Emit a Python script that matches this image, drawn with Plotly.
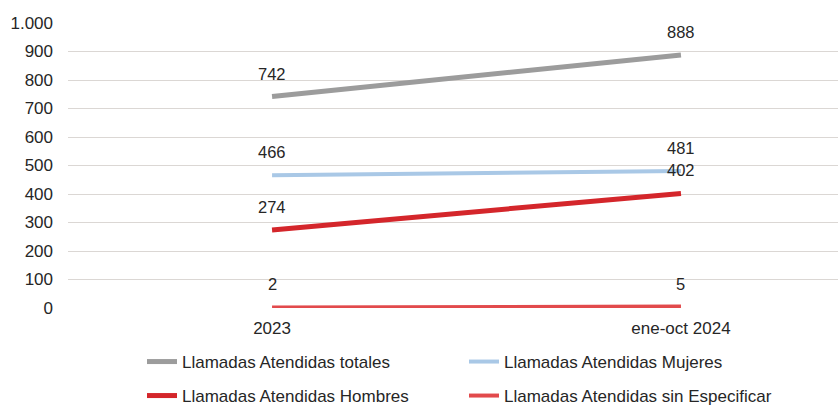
import plotly.graph_objects as go

# Periods on the x axis
periods = ["2023", "ene-oct 2024"]

# Calls attended per period
totales = [742, 888]
mujeres = [466, 481]
hombres = [274, 402]
sin_especificar = [2, 5]

series = [
    ("Llamadas Atendidas totales", totales, "#9c9c9c", 5, "legend"),
    ("Llamadas Atendidas Mujeres", mujeres, "#a9c8e6", 4, "legend"),
    ("Llamadas Atendidas Hombres", hombres, "#d4262b", 5, "legend2"),
    ("Llamadas Atendidas sin Especificar", sin_especificar, "#e24a4c", 4, "legend2"),
]

y_ticks = list(range(0, 1001, 100))
y_labels = [f"{v:,}".replace(",", ".") for v in y_ticks]

font = "Liberation Sans, Arial, sans-serif"
txt = "#262626"
H = 406

fig = go.Figure()
for name, vals, color, width, leg in series:
    fig.add_trace(go.Scatter(
        x=periods, y=vals, name=name, mode="lines",
        line=dict(color=color, width=width),
        legend=leg, hoverinfo="skip",
    ))
    # value labels above each point (category index on the x axis)
    for i, v in enumerate(vals):
        fig.add_annotation(
            x=i, y=v, text=str(v), showarrow=False, yshift=23,
            font=dict(family=font, size=16.5, color=txt),
        )

legend_common = dict(
    orientation="h", xref="container", x=142 / 838, xanchor="left",
    yref="container", yanchor="middle",
    entrywidth=277, entrywidthmode="pixels",
    font=dict(family=font, size=17, color=txt), bgcolor="rgba(0,0,0,0)",
)

fig.update_layout(
    width=838, height=H,
    margin=dict(l=68, r=0, t=23, b=98, autoexpand=False),
    paper_bgcolor="white", plot_bgcolor="white",
    font=dict(family=font, size=17, color=txt),
    xaxis=dict(
        type="category", range=[-0.499, 1.384],
        showgrid=False, zeroline=False, showline=False,
        ticks="", ticklabelstandoff=8,
        tickfont=dict(family=font, size=17, color=txt),
    ),
    yaxis=dict(
        range=[0, 1000], tickvals=y_ticks, ticktext=y_labels,
        showgrid=True, gridcolor="#dbd7d4", gridwidth=1.3,
        zeroline=False, showline=False, ticks="",
        ticklabelstandoff=14,
        tickfont=dict(family=font, size=17, color=txt),
    ),
    legend=dict(legend_common, y=1 - 362 / H),
    legend2=dict(legend_common, y=1 - 396 / H),
    showlegend=True,
)

fig.write_html("out.html")
